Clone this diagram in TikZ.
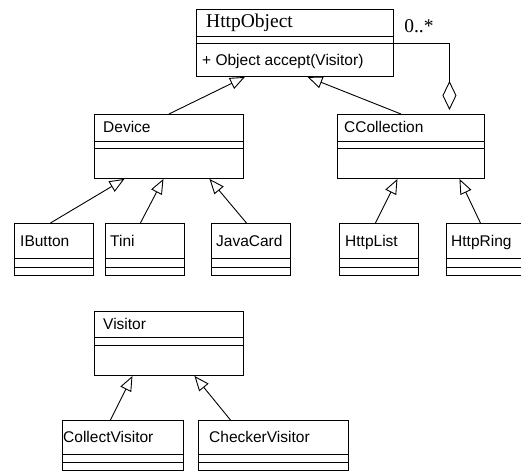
\documentclass[tikz,border=0pt]{standalone}
\usepackage{fontspec}
\setmainfont{Liberation Serif}
\setsansfont{Liberation Sans}
\usetikzlibrary{arrows.meta}

\tikzset{
	classbox/.style={draw, line width=0.9pt, inner sep=0pt},
	clsname/.style={font=\sffamily\fontsize{15.5}{18}\selectfont, inner sep=0pt},
	serifname/.style={font=\rmfamily\fontsize{19.5}{22}\selectfont, inner sep=0pt},
	inherit/.style={draw, line width=0.9pt, -{Triangle[open, length=15pt, width=12pt]}},
	aggr/.style={draw, line width=0.9pt, -{Diamond[open, length=29pt, width=14pt]}}
}

\begin{document}
\begin{tikzpicture}[x=1pt, y=-1pt]
	\useasboundingbox (0,0) rectangle (521,473);
	\clip (0,0) rectangle (521,473);

	% Top class
	\node[classbox, minimum width=197, minimum height=67, anchor=north west] (hobj) at (196,9) {};
	\draw[line width=0.9pt] ([yshift=-27pt]hobj.north west) -- ([yshift=-27pt]hobj.north east);
	\draw[line width=0.9pt] ([yshift=-34pt]hobj.north west) -- ([yshift=-34pt]hobj.north east);
	\node[serifname, anchor=base west] (hobj-name) at ([xshift=10pt, yshift=-19pt]hobj.north west) {HttpObject};
	\node[clsname, anchor=base west] (hobj-op) at ([xshift=6pt, yshift=-57pt]hobj.north west) {+ Object accept(Visitor)};

	% Second row
	\node[classbox, minimum width=149, minimum height=64, anchor=north west] (device) at (94,114) {};
	\node[classbox, minimum width=147, minimum height=64, anchor=north west] (ccoll) at (337,114) {};

	% Leaves
	\node[classbox, minimum width=79, minimum height=52, anchor=north west] (ibutton) at (14,223) {};
	\node[classbox, minimum width=79, minimum height=52, anchor=north west] (tini) at (105,223) {};
	\node[classbox, minimum width=79, minimum height=52, anchor=north west] (javacard) at (211,223) {};
	\node[classbox, minimum width=79, minimum height=52, anchor=north west] (httplist) at (339,223) {};
	\node[classbox, minimum width=79, minimum height=52, anchor=north west] (httpring) at (446,223) {};

	% Visitor hierarchy
	\node[classbox, minimum width=149, minimum height=64, anchor=north west] (visitor) at (94,311) {};
	\node[classbox, minimum width=121, minimum height=50, anchor=north west] (collectv) at (62,420) {};
	\node[classbox, minimum width=150, minimum height=50, anchor=north west] (checkerv) at (198,420) {};

	% Compartments and names
	\foreach \id/\top/\gap/\inset/\name in {
		device/27/7/9/Device, ccoll/27/7/7/CCollection,
		ibutton/35/9/6/IButton, tini/35/9/5/Tini, javacard/35/9/5/JavaCard,
		httplist/35/9/6/HttpList, httpring/35/9/5/HttpRing,
		visitor/26/8/9/Visitor, collectv/34/8/1/CollectVisitor, checkerv/34/8/11/CheckerVisitor} {
		\draw[line width=0.9pt] ([yshift=-\top pt]\id.north west) -- ([yshift=-\top pt]\id.north east);
		\draw[line width=0.9pt] ([yshift=-\top pt-\gap pt]\id.north west) -- ([yshift=-\top pt-\gap pt]\id.north east);
		\node[clsname, anchor=base west] (\id-name) at ([xshift=\inset pt, yshift=-\top pt/2-5.5pt]\id.north west) {\name};
	}

	% Generalization
	\draw[inherit] (device.north) -- ([xshift=-50pt]hobj.south);
	\draw[inherit] ([xshift=-10pt]ccoll.north) -- ([xshift=12.5pt]hobj.south);
	\draw[inherit] ([xshift=-3.5pt]ibutton.north) -- ([xshift=-44.5pt]device.south);
	\draw[inherit] ([xshift=-4.5pt]tini.north) -- ([xshift=-5.5pt]device.south);
	\draw[inherit] ([xshift=-4.5pt]javacard.north) -- ([xshift=40.5pt]device.south);
	\draw[inherit] ([xshift=-3.5pt]httplist.north) -- ([xshift=-13.5pt]ccoll.south);
	\draw[inherit] ([xshift=-5.5pt]httpring.north) -- ([xshift=48.5pt]ccoll.south);
	\draw[inherit] ([xshift=-12.5pt]collectv.north) -- ([xshift=-36.5pt]visitor.south);
	\draw[inherit] ([xshift=-43pt]checkerv.north) -- ([xshift=25.5pt]visitor.south);

	% Aggregation
	\draw[aggr] ([yshift=-34pt]hobj.north east) -| ([xshift=38.5pt, yshift=4pt]ccoll.north)
		node[serifname, pos=0, anchor=base west, xshift=10pt, yshift=10pt] (mult) {0..*};
\end{tikzpicture}
\end{document}
